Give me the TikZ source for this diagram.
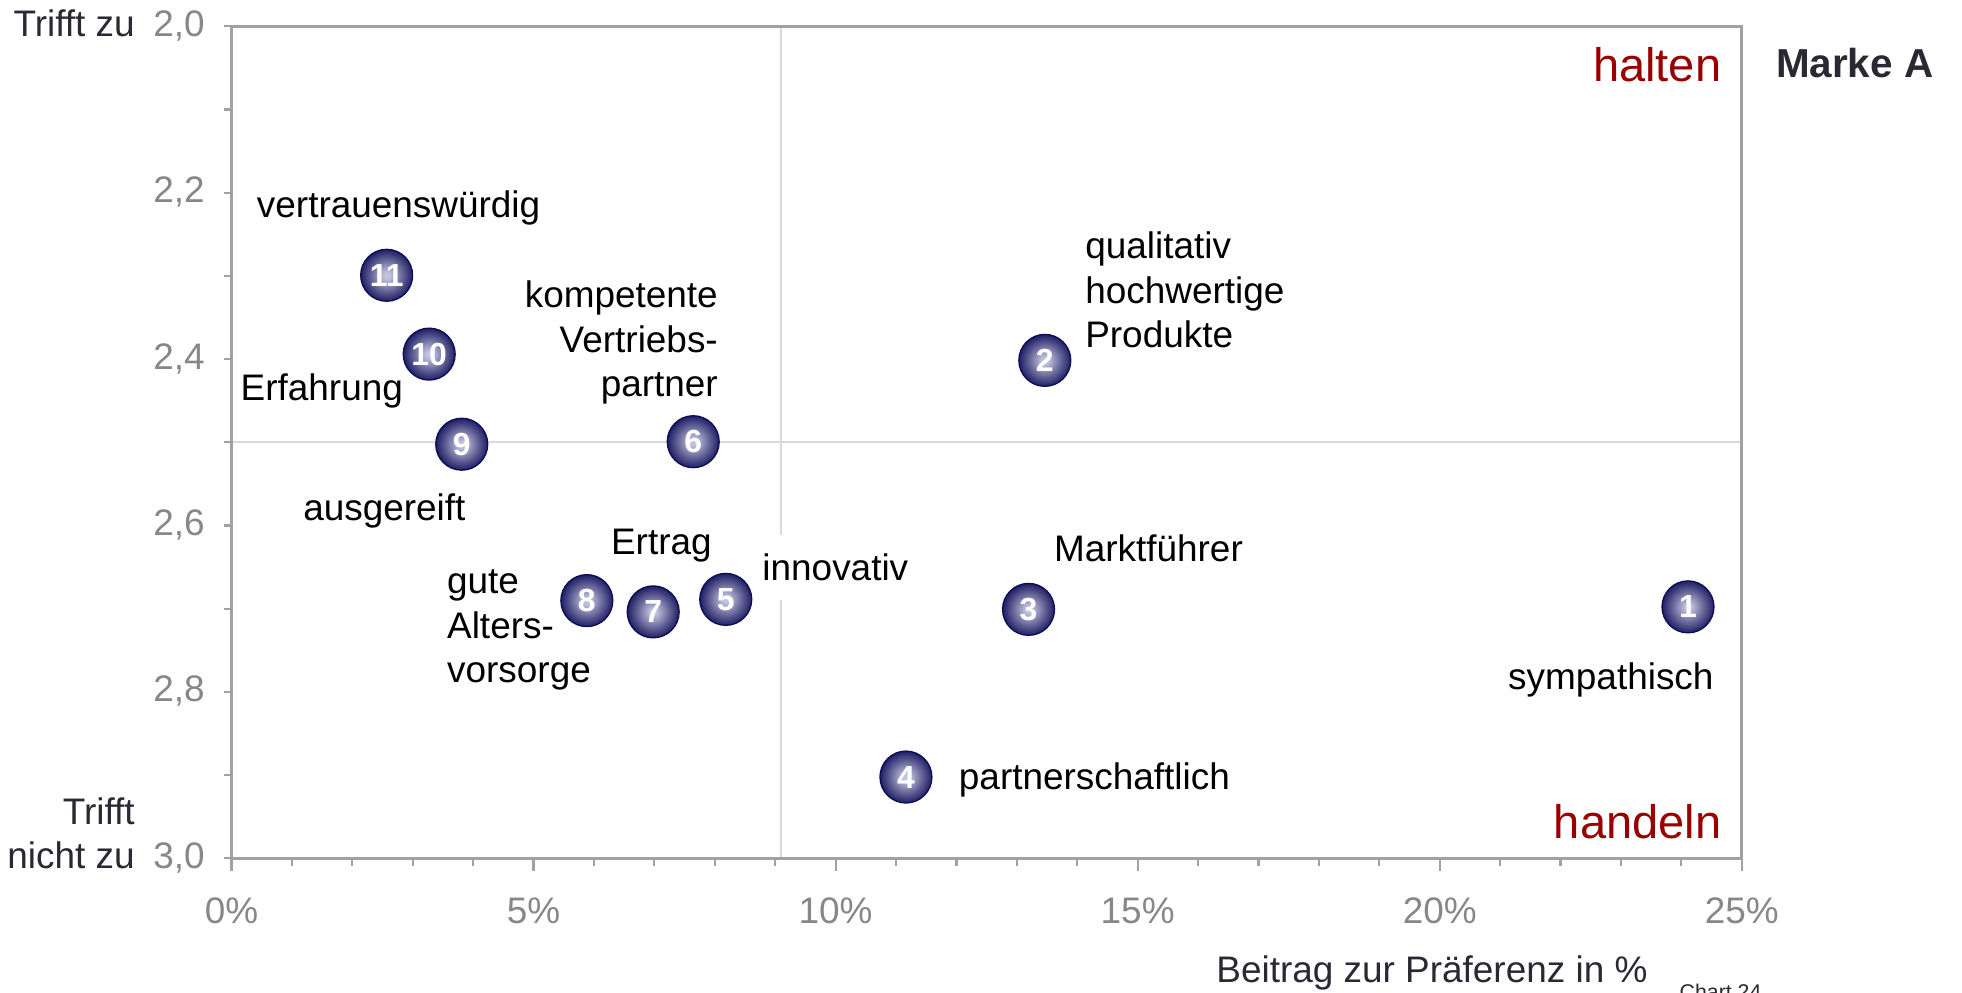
\documentclass[tikz,border=0pt]{standalone}
\usepackage{fontspec}
\setmainfont{Liberation Sans}
\definecolor{FrameClr}{rgb}{0.63,0.63,0.63}
\definecolor{GridClr}{rgb}{0.85,0.85,0.85}
\definecolor{TickClr}{rgb}{0.53,0.53,0.53}
\definecolor{TitleClr}{rgb}{0.16,0.16,0.2}
\definecolor{ZoneClr}{rgb}{0.6,0,0}
\definecolor{BallEdgeClr}{rgb}{0.05,0.05,0.33}
\definecolor{BallClr}{rgb}{0.12,0.12,0.4}
\definecolor{BallMidClr}{rgb}{0.4,0.4,0.6}
\definecolor{BallLightClr}{rgb}{0.76,0.76,0.87}
\pgfdeclareradialshading{BallShade}{\pgfpoint{0bp}{0bp}}{color(0bp)=(BallLightClr); color(3bp)=(BallLightClr); color(15bp)=(BallMidClr); color(25bp)=(BallClr); color(50bp)=(BallClr)}

\begin{document}
\begin{tikzpicture}[x=0.02cm,y=-0.02cm,
  every node/.style={font=\fontsize{16.8}{20.3}\selectfont},
  ball/.style={circle,minimum size=0.83cm,inner sep=0pt,draw=BallEdgeClr,line width=0.6pt,
    shading=BallShade,text=white,font=\bfseries\fontsize{14.5}{14.5}\selectfont},
  word/.style={inner sep=0pt,align=left},
  ticklbl/.style={inner sep=0pt,text=TickClr},
  zone/.style={inner sep=0pt,text=ZoneClr,font=\fontsize{21.4}{24}\selectfont}]
\useasboundingbox (0,0) rectangle (1568,793);

\coordinate (NW) at (185,21);
\coordinate (SE) at (1392,686);
\coordinate (GridN) at (624,21);
\coordinate (GridS) at (624,686);
\coordinate (GridW) at (185,353);
\coordinate (GridE) at (1392,353);

\draw[GridClr,line width=0.9pt] (GridN) -- (GridS);
\draw[GridClr,line width=0.9pt] (GridW) -- (GridE);

\foreach \k in {0,...,10} \draw[FrameClr,line width=1pt] (185,21+66.5*\k) -- ++(-6,0);
\foreach \k in {0,...,25} \draw[FrameClr,line width=1pt] (185+48.28*\k,686) -- ++(0,6);
\foreach \k in {0,...,5} \draw[FrameClr,line width=1pt] (185+241.4*\k,686) -- ++(0,10);
\draw[FrameClr,line width=1.2pt] (NW) rectangle (SE);

\foreach \lbl [count=\i from 0] in {{2,0},{2,2},{2,4},{2,6},{2,8},{3,0}}
  \node[ticklbl,anchor=base east] (Y\i) at (164,29+133*\i) {\lbl};
\foreach \p [count=\i from 0] in {0,5,10,15,20,25}
  \node[ticklbl,anchor=base] (X\i) at (185+241.4*\i,738) {\p\%};

\node[word,anchor=base east,text=TitleClr] (top) at (108,29) {Trifft zu};
\node[word,anchor=north east,align=right,text=TitleClr] (bottom) at (108,637) {Trifft\\nicht zu};
\node[word,anchor=base east,text=TitleClr] (xtitle) at (1317,785) {Beitrag zur Präferenz in \%};
\node[word,anchor=north west,text=TitleClr,font=\fontsize{9.7}{10}\selectfont] (chart) at (1342,786) {Chart 24};
\node[word,anchor=base west,text=TitleClr,font=\bfseries\fontsize{18.4}{20}\selectfont] (brand) at (1419,62) {Marke A};
\node[zone,anchor=base east] (halten) at (1376,65) {halten};
\node[zone,anchor=base east] (handeln) at (1376,670) {handeln};

\node[word,anchor=base west] (L11) at (205,174) {vertrauenswürdig};
\node[word,anchor=base west] (L10) at (192,320) {Erfahrung};
\node[word,anchor=base west] (L9) at (242,416) {ausgereift};
\node[word,anchor=north east,align=right] (L6) at (574,224) {kompetente\\Vertriebs-\\partner};
\node[word,anchor=north west] (L2) at (867,185) {qualitativ\\hochwertige\\Produkte};
\node[word,anchor=north west] (L8) at (357,455) {gute\\Alters-\\vorsorge};
\node[word,anchor=base west] (L7) at (488,443) {Ertrag};
\node[word,anchor=base west,fill=white,inner sep=0.3cm] (L5) at (594,464) {innovativ};
\node[word,anchor=base west] (L3) at (842,449) {Marktführer};
\node[word,anchor=base west] (L1) at (1205,551) {sympathisch};
\node[word,anchor=base west] (L4) at (766,631) {partnerschaftlich};

\node[ball] (B1) at (1349,485) {1};
\node[ball] (B2) at (835,288) {2};
\node[ball] (B3) at (822,487) {3};
\node[ball] (B4) at (724,621) {4};
\node[ball] (B5) at (580,479) {5};
\node[ball] (B6) at (554,353) {6};
\node[ball] (B7) at (522,489) {7};
\node[ball] (B8) at (469,480) {8};
\node[ball] (B9) at (369,355) {9};
\node[ball] (B10) at (343,283) {10};
\node[ball] (B11) at (309,220) {11};

\end{tikzpicture}
\end{document}
